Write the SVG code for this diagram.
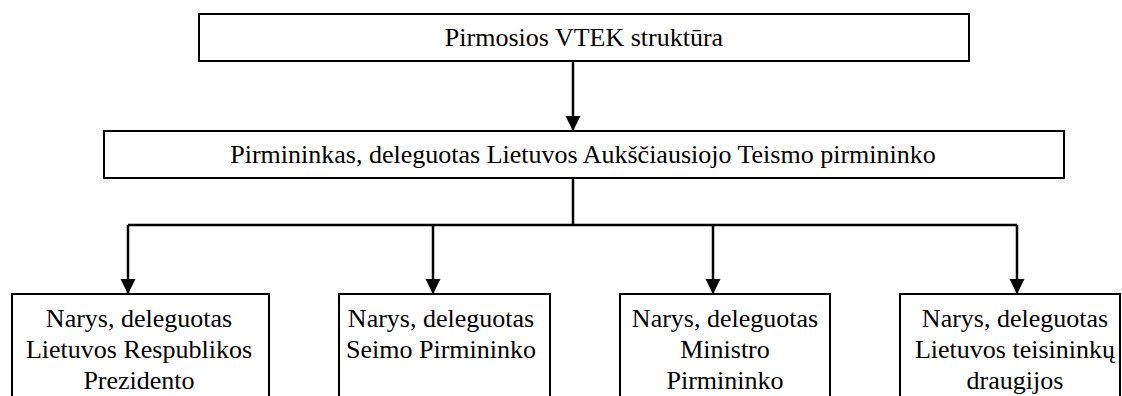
<svg xmlns="http://www.w3.org/2000/svg" width="1122" height="396" viewBox="0 0 1122 396">
<style>
.box{fill:#fff;stroke:#000;stroke-width:2}
.t{font-family:"Liberation Serif","Times New Roman",serif;font-size:26px;fill:#000;text-anchor:middle}
.c{stroke:#000;stroke-width:2.5;fill:none}
</style>
<defs>
<marker id="arr" markerUnits="userSpaceOnUse" markerWidth="16" markerHeight="16" refX="15" refY="8" orient="auto">
<path d="M0,0.5 L15,8 L0,15.5 z" fill="#000"/>
</marker>
</defs>
<rect width="1122" height="396" fill="#fff"/>
<g id="connectors">
<line class="c" x1="573" y1="61" x2="573" y2="131" marker-end="url(#arr)"/>
<polyline class="c" points="573,178 573,225"/>
<polyline class="c" points="128,225 1017,225"/>
<line class="c" x1="128" y1="225" x2="128" y2="294" marker-end="url(#arr)"/>
<line class="c" x1="433" y1="225" x2="433" y2="294" marker-end="url(#arr)"/>
<line class="c" x1="713" y1="225" x2="713" y2="294" marker-end="url(#arr)"/>
<line class="c" x1="1017" y1="225" x2="1017" y2="294" marker-end="url(#arr)"/>
</g>
<g id="top">
<rect class="box" x="199" y="14" width="770" height="47"/>
<text class="t" x="584" y="46">Pirmosios VTEK struktūra</text>
</g>
<g id="chair">
<rect class="box" x="104" y="131" width="960" height="47"/>
<text class="t" x="583" y="163">Pirmininkas, deleguotas Lietuvos Aukščiausiojo Teismo pirmininko</text>
</g>
<g id="member1">
<rect class="box" x="12" y="294" width="257" height="130"/>
<text class="t" x="139" y="327">Narys, deleguotas</text>
<text class="t" x="139" y="358">Lietuvos Respublikos</text>
<text class="t" x="139" y="389">Prezidento</text>
</g>
<g id="member2">
<rect class="box" x="339" y="294" width="211" height="130"/>
<text class="t" x="441" y="327">Narys, deleguotas</text>
<text class="t" x="441" y="358">Seimo Pirmininko</text>
</g>
<g id="member3">
<rect class="box" x="620" y="294" width="210" height="130"/>
<text class="t" x="725" y="327">Narys, deleguotas</text>
<text class="t" x="725" y="358">Ministro</text>
<text class="t" x="725" y="389">Pirmininko</text>
</g>
<g id="member4">
<rect class="box" x="900" y="294" width="220" height="130"/>
<text class="t" x="1015" y="327">Narys, deleguotas</text>
<text class="t" x="1015" y="358">Lietuvos teisininkų</text>
<text class="t" x="1015" y="389">draugijos</text>
</g>
</svg>
